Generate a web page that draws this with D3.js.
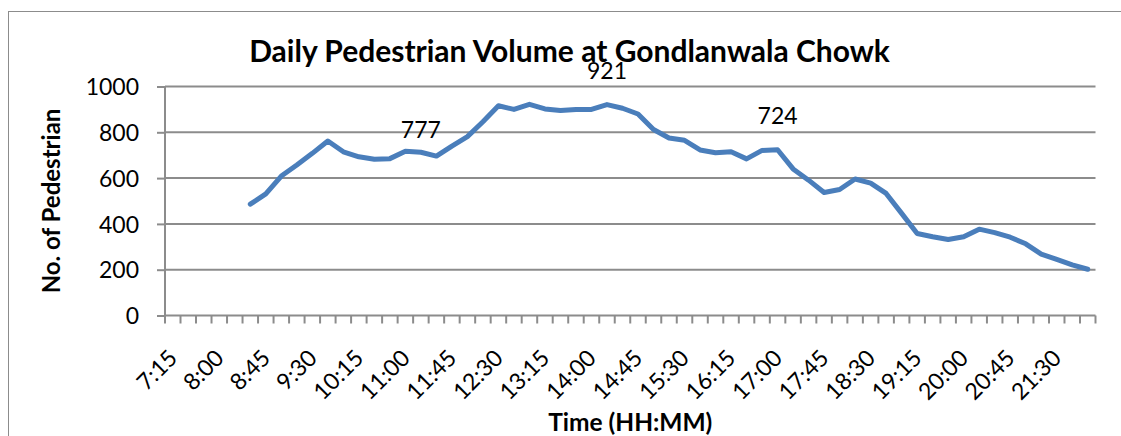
<!DOCTYPE html>
<html>
<head>
<meta charset="utf-8">
<script src="https://cdn.jsdelivr.net/npm/d3@7"></script>
<style>
  body { margin: 0; background: #fff; }
  text { font-family: Lato, "Open Sans", sans-serif; fill: #000; }
</style>
</head>
<body>
<svg width="1121" height="436"></svg>
<script>
"use strict";

// 15 minute counts, 7:15 to 22:00
var categories = ["7:15","7:30","7:45","8:00","8:15","8:30","8:45","9:00","9:15","9:30",
  "9:45","10:00","10:15","10:30","10:45","11:00","11:15","11:30","11:45","12:00",
  "12:15","12:30","12:45","13:00","13:15","13:30","13:45","14:00","14:15","14:30",
  "14:45","15:00","15:15","15:30","15:45","16:00","16:15","16:30","16:45","17:00",
  "17:15","17:30","17:45","18:00","18:15","18:30","18:45","19:00","19:15","19:30",
  "19:45","20:00","20:15","20:30","20:45","21:00","21:15","21:30","21:45","22:00"];

var pedestrians = [null,null,null,null,null,486,531,609,657,708,
  762,715,693,682,685,717,713,696,740,781,
  846,916,900,922,902,895,900,900,921,905,
  880,812,775,765,723,711,715,684,721,724,
  640,591,537,550,596,578,533,446,358,344,
  332,344,377,362,342,313,268,245,221,202];

var yTicks = [0,200,400,600,800,1000];

// data labels as shown on the chart: category, text, height (in pedestrians)
var labelCats = ["11:15","14:15","17:00"];
var labelTexts = ["777","921","724"];
var labelAt = [775,1032,836];

function dataViz(){
	var svg=d3.select("svg");
	var left=165, right=1095.5, top=86.5, bottom=315.5;

	var xScale=d3.scaleBand().domain(categories).range([left,right]);
	var yScale=d3.scaleLinear().domain([0,1000]).range([bottom,top]);
	var bw=xScale.bandwidth();
	function cx(c){ return xScale(c)+bw/2; }

	// chart border
	svg.append("rect")
		.attr("x",8.5).attr("y",11.5)
		.attr("width",1130).attr("height",440)
		.attr("fill","none").attr("stroke","#8c8c8c").attr("stroke-width",1);

	// gridlines + y axis
	var yAxis=svg.append("g")
		.attr("id","yAxisG")
		.attr("transform","translate("+left+",0)")
		.call(d3.axisLeft(yScale).tickValues(yTicks).tickFormat(d3.format("d")).tickSize(8).tickPadding(18));
	yAxis.select(".domain").remove();
	yAxis.selectAll(".tick line").attr("stroke","#8c8c8c").attr("stroke-width",2);
	yAxis.selectAll(".tick text").style("font-size","23px").attr("fill","#000").attr("dy","0.36em");

	svg.append("g").selectAll("line.grid")
		.data(yTicks)
		.enter()
		.append("line")
		.attr("class","grid")
		.attr("x1",left).attr("x2",right)
		.attr("y1",function(d){return yScale(d);})
		.attr("y2",function(d){return yScale(d);})
		.attr("stroke","#8c8c8c").attr("stroke-width",2);

	svg.append("line")
		.attr("x1",left).attr("x2",left)
		.attr("y1",top).attr("y2",bottom)
		.attr("stroke","#8c8c8c").attr("stroke-width",2);

	// x ticks between categories
	var bounds=categories.map(function(c){return xScale(c);}).concat([right]);
	svg.append("g").selectAll("line.xtick")
		.data(bounds)
		.enter()
		.append("line")
		.attr("class","xtick")
		.attr("x1",function(d){return d;}).attr("x2",function(d){return d;})
		.attr("y1",bottom).attr("y2",bottom+8)
		.attr("stroke","#8c8c8c").attr("stroke-width",2);

	svg.append("g").selectAll("text.xlab")
		.data(categories.filter(function(c,i){return i%3===0;}))
		.enter()
		.append("text")
		.attr("class","xlab")
		.attr("text-anchor","end")
		.attr("transform",function(d){return "translate("+(cx(d)+6)+","+(bottom+44)+") rotate(-45)";})
		.style("font-size","23px")
		.text(function(d){return d;});

	// the line
	var pts=categories.map(function(c,i){return {cat:c, v:pedestrians[i]};});
	var line=d3.line()
		.defined(function(d){return d.v!==null;})
		.x(function(d){return cx(d.cat);})
		.y(function(d){return yScale(d.v);});

	svg.append("path")
		.attr("d",line(pts))
		.attr("fill","none")
		.attr("stroke","#4a7ebb")
		.attr("stroke-width",5)
		.attr("stroke-linejoin","round")
		.attr("stroke-linecap","round");

	svg.append("g").selectAll("text.dlab")
		.data(labelCats)
		.enter()
		.append("text")
		.attr("class","dlab")
		.attr("text-anchor","middle")
		.attr("x",function(d){return cx(d);})
		.attr("y",function(d,i){return yScale(labelAt[i]);})
		.style("font-size","23px")
		.text(function(d,i){return labelTexts[i];});

	// titles
	svg.append("text")
		.attr("x",569.5).attr("y",62)
		.attr("text-anchor","middle")
		.style("font-size","30px").style("font-weight","bold")
		.text("Daily Pedestrian Volume at Gondlanwala Chowk");

	svg.append("text")
		.attr("transform","translate(60,"+((top+bottom)/2)+") rotate(-90)")
		.attr("text-anchor","middle")
		.style("font-size","24px").style("font-weight","bold")
		.text("No. of Pedestrian");

	svg.append("text")
		.attr("x",(left+right)/2).attr("y",431)
		.attr("text-anchor","middle")
		.style("font-size","24.5px").style("font-weight","bold")
		.text("Time (HH:MM)");
}

dataViz();
</script>
</body>
</html>
